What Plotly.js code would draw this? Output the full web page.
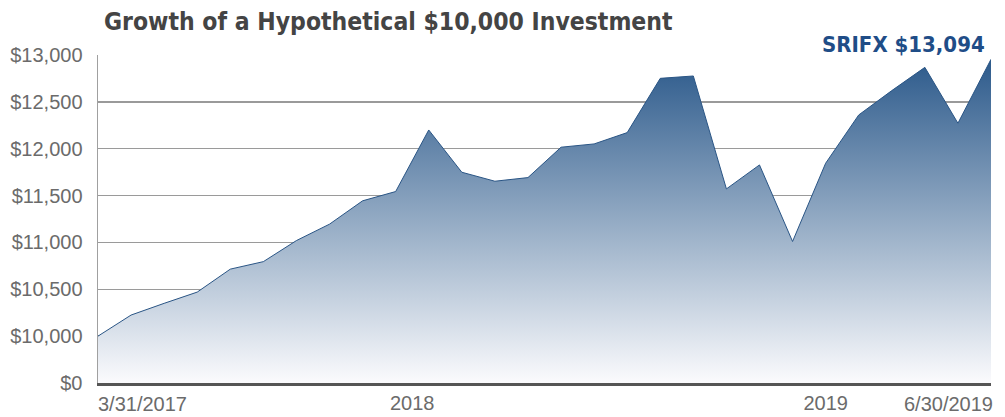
<!DOCTYPE html>
<html>
<head>
<meta charset="utf-8">
<script src="https://cdn.plot.ly/plotly-3.0.1.min.js"></script>
<style>
html,body{margin:0;padding:0;background:#fff;}
#chart{width:1005px;height:417px;}
</style>
</head>
<body>
<div id="chart"></div>
<script>
// Month-end dates (category positions)
const dates = [
  "3/31/2017","4/30/2017","5/31/2017","6/30/2017","7/31/2017","8/31/2017","9/30/2017",
  "10/31/2017","11/30/2017","12/31/2017","1/31/2018","2/28/2018","3/31/2018","4/30/2018",
  "5/31/2018","6/30/2018","7/31/2018","8/31/2018","9/30/2018","10/31/2018","11/30/2018",
  "12/31/2018","1/31/2019","2/28/2019","3/31/2019","4/30/2019","5/31/2019","6/30/2019"
];
// Growth of $10,000
const values = [
  10000,10225,10350,10470,10715,10795,11020,
  11195,11444,11543,12200,11749,11653,11692,
  12016,12051,12172,12751,12776,11571,11827,
  11010,11845,12360,12620,12868,12272,12954
];
const fundLabel = "SRIFX $13,094";
const yTickVals = [9500,10000,10500,11000,11500,12000,12500,13000];
const yTickText = ["$0","$10,000","$10,500","$11,000","$11,500","$12,000","$12,500","$13,000"];
const xTickPos = [9.5,22];
const xTickText = ["2018","2019"];
const xEndLabels = ["3/31/2017","6/30/2019"];

const xIdx = dates.map((d,i)=>i);
const narrow = "'DejaVu Sans Condensed', 'Liberation Sans', Arial, sans-serif";
const plain = "'Liberation Sans', Arial, sans-serif";
const tickColor = '#6b6b6b';
const tickSize = 20;

const trace = {
  x: xIdx,
  y: values,
  text: dates,
  type: 'scatter',
  mode: 'lines',
  line: {color:'#2a5585', width:1},
  fill: 'tozeroy',
  fillgradient: {
    type: 'vertical',
    start: 9500,
    stop: 12960,
    colorscale: [[0,'#fbfbfd'],[1,'#2c5a8b']]
  },
  hoverinfo: 'text+y'
};

const layout = {
  width: 1005, height: 417,
  margin: {l:98, r:14, t:55, b:34},
  paper_bgcolor: '#fff', plot_bgcolor: '#fff',
  showlegend: false,
  title: {
    text: "<b>Growth of a Hypothetical $10,000 Investment</b>",
    font: {family: narrow, size: 24.5, color:'#444444'},
    x: 104/1005, xanchor:'left', xref:'container',
    y: 1-21/417, yanchor:'middle', yref:'container'
  },
  xaxis: {
    range: [0, 27],
    tickvals: xTickPos,
    ticktext: xTickText,
    tickfont: {family: plain, size: tickSize, color: tickColor},
    showgrid: false, zeroline: false,
    showline: true, linecolor:'#555555', linewidth: 3,
    ticks: '', fixedrange: true
  },
  yaxis: {
    range: [9500, 13000],
    tickvals: yTickVals,
    ticktext: yTickText,
    tickfont: {family: plain, size: tickSize, color: tickColor},
    showgrid: true, gridcolor:'#9a9a9a', gridwidth: 1.5,
    zeroline: false,
    showline: true, linecolor:'#a0a0a0', linewidth: 1.5,
    ticks: 'outside', ticklen: 0, ticklabelstandoff: 10,
    fixedrange: true
  },
  annotations: [
    {
      text: "<b>" + fundLabel + "</b>",
      x: 1, xref:'paper', xanchor:'right', xshift: -2,
      y: 1, yref:'paper', yanchor:'bottom', yshift: -6,
      showarrow: false,
      bgcolor: '#ffffff', borderpad: 3,
      font: {family: narrow, size: 22, color:'#1f4d87'}
    },
    {
      text: xEndLabels[0], x: 0, xref:'x', xanchor:'left', xshift: -2,
      y: 0, yref:'paper', yanchor:'top', yshift: -8,
      showarrow:false, font:{family: plain, size: tickSize, color: tickColor}
    },
    {
      text: xEndLabels[1], x: 27, xref:'x', xanchor:'right', xshift: 4,
      y: 0, yref:'paper', yanchor:'top', yshift: -8,
      showarrow:false, font:{family: plain, size: tickSize, color: tickColor}
    }
  ]
};

Plotly.newPlot('chart', [trace], layout, {displayModeBar:false, staticPlot:true});
</script>
</body>
</html>
